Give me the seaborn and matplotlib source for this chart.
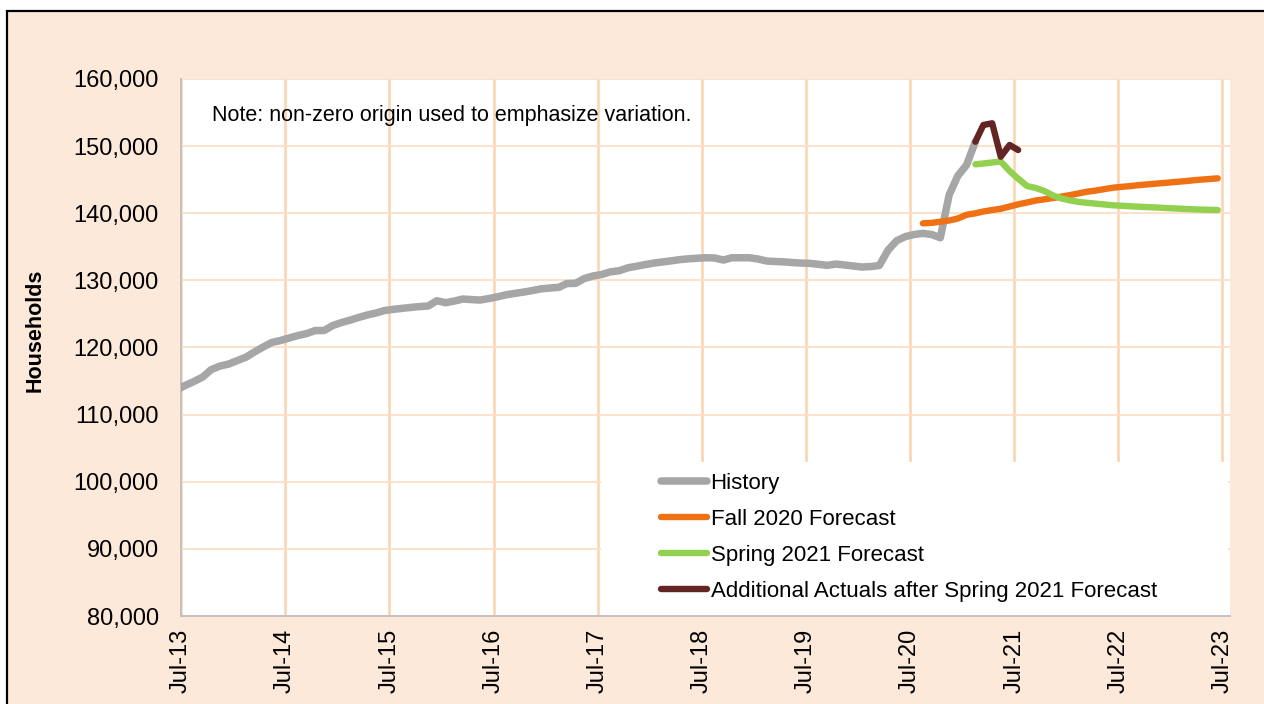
import seaborn as sns
import matplotlib.pyplot as plt
import matplotlib.dates as mdates
import matplotlib.ticker as mticker
from matplotlib.patches import Rectangle
import pandas as pd

# monthly households, Jun-13 .. Feb-21
history = [113660, 114330, 114930, 115600, 116710, 117240, 117530, 118060, 118580, 119320,
           120070, 120740, 121040, 121410, 121780, 122080, 122530, 122530, 123270, 123720,
           124090, 124460, 124840, 125130, 125510, 125680, 125830, 125970, 126100, 126180,
           126970, 126670, 126920, 127220, 127140, 127070, 127290, 127550, 127860, 128070,
           128260, 128490, 128740, 128860, 128960, 129530, 129560, 130270, 130650, 130870,
           131270, 131440, 131870, 132110, 132350, 132580, 132750, 132900, 133090, 133210,
           133300, 133370, 133340, 133030, 133370, 133370, 133370, 133180, 132880, 132810,
           132760, 132660, 132580, 132540, 132390, 132240, 132430, 132290, 132140, 131990,
           132060, 132210, 134520, 135910, 136530, 136830, 137010, 136830, 136350, 142720,
           145550, 147190, 150660]

# Aug-20 .. Jun-23
fall_2020 = [138500, 138570, 138740, 138920, 139210, 139770, 139990, 140260, 140480, 140670,
             141000, 141330, 141600, 141900, 142070, 142270, 142490, 142720, 142980, 143220,
             143390, 143610, 143820, 143940, 144060, 144210, 144310, 144430, 144530, 144650,
             144760, 144880, 145000, 145100, 145200]

# Feb-21 .. Jun-23
spring_2021 = [147290, 147410, 147560, 147710, 146290, 145160, 144060, 143760, 143310, 142640,
               142190, 141900, 141670, 141550, 141420, 141300, 141180, 141110, 141030, 140970,
               140910, 140850, 140780, 140720, 140660, 140600, 140550, 140510, 140480]

# Feb-21 .. Jul-21
additional = [150660, 153150, 153400, 148420, 150170, 149420]


def month_dates(start, n):
    return pd.date_range(start, periods=n, freq="MS") + pd.Timedelta(days=14)


series = [
    ("History", "2013-06-01", history, "#A6A6A6", 5.4),
    ("Fall 2020 Forecast", "2020-08-01", fall_2020, "#F07014", 4.6),
    ("Spring 2021 Forecast", "2021-02-01", spring_2021, "#92D050", 4.6),
    ("Additional Actuals after Spring 2021 Forecast", "2021-02-01", additional, "#632523", 4.6),
]

sns.set_style("white")
plt.rcParams["font.family"] = ["Liberation Sans", "DejaVu Sans"]
plt.rcParams["text.color"] = "black"
plt.rcParams["axes.labelcolor"] = "black"

fig = plt.figure(figsize=(12.64, 7.04), dpi=100)
fig.patch.set_facecolor("white")
fig.add_artist(Rectangle((7 / 1264, -0.2), 1.3, 1 - 11 / 704 + 0.2, transform=fig.transFigure,
                         facecolor="#FCE9DA", edgecolor="black", lw=1.6, zorder=-10))

ax = fig.add_axes([181 / 1264, 1 - 616 / 704, 1049 / 1264, 537 / 704])
ax.set_facecolor("white")

for name, start, vals, color, lw in series:
    df = pd.DataFrame({"date": month_dates(start, len(vals)), "households": vals})
    sns.lineplot(data=df, x="date", y="households", ax=ax, color=color, lw=lw,
                 label=name, solid_capstyle="round", zorder=3)

ax.set_xlim(pd.Timestamp("2013-07-01"), pd.Timestamp("2023-07-28"))
ax.set_ylim(80000, 160000)
ax.xaxis.set_major_locator(mdates.MonthLocator(bymonth=7, bymonthday=1))
ax.xaxis.set_major_formatter(mdates.DateFormatter("%b-%y"))
ax.yaxis.set_major_locator(mticker.MultipleLocator(10000))
ax.yaxis.set_major_formatter(mticker.StrMethodFormatter("{x:,.0f}"))

ax.grid(axis="x", color="#FBD3AE", lw=1.8, zorder=0)
ax.grid(axis="y", color="#FCDFC6", lw=1.3, zorder=0)
for s in ["top", "right"]:
    ax.spines[s].set_visible(False)
for s in ["left", "bottom"]:
    ax.spines[s].set_color("#BFBFBF")
    ax.spines[s].set_linewidth(1.3)
ax.tick_params(axis="both", colors="#BFBFBF", labelcolor="black", length=6, width=1.2,
               labelsize=17, direction="out")
ax.tick_params(axis="x", labelrotation=90, pad=3)
ax.tick_params(axis="y", pad=10)

ax.set_xlabel("")
ax.set_ylabel("Households", fontsize=15.5, fontweight="bold")
ax.yaxis.set_label_coords(-(181 - 46) / 1049, (616 - 330) / 537)

ax.text((212 - 181) / 1049, (616 - 115) / 537, "Note: non-zero origin used to emphasize variation.",
        transform=ax.transAxes, fontsize=15.5, va="center", ha="left", color="black")

# white legend panel covering the lower right of the grid
ax.add_patch(Rectangle(((601 - 181) / 1049, 0), 627 / 1049, (616 - 462) / 537,
                       transform=ax.transAxes, facecolor="white", edgecolor="none", zorder=2))

leg = ax.legend(loc="upper left", bbox_to_anchor=((661 - 181) / 1049, (616 - 473) / 537),
                borderaxespad=0, borderpad=0, frameon=False, fontsize=16,
                handlelength=2.05, handletextpad=0.18, labelspacing=0.67)
leg.set_zorder(5)
for text in leg.get_texts():
    text.set_color("black")
for line in leg.get_lines():
    line.set_solid_capstyle("round")

fig.savefig("out.png", dpi=100)
